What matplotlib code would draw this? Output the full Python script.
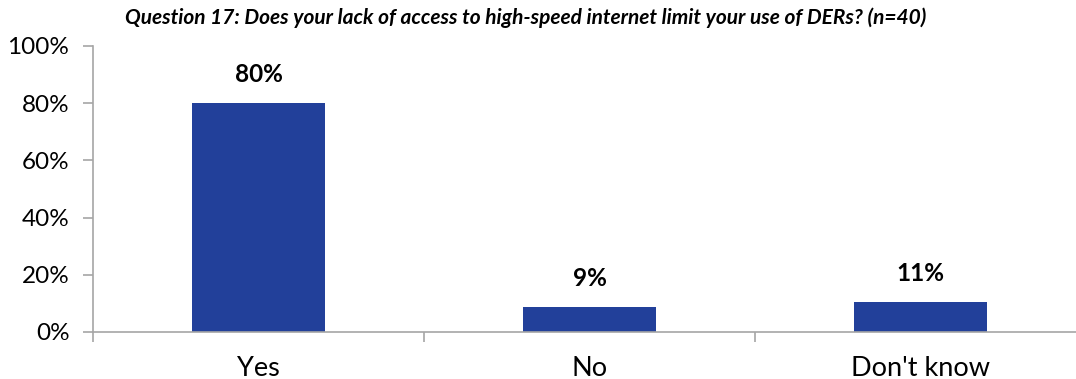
import numpy as np
import matplotlib.pyplot as plt
from matplotlib.ticker import FixedLocator

categories = ["Yes", "No", "Don't know"]
values = [80, 8.7, 10.6]
labels = ["80%", "9%", "11%"]
yticks = [0, 20, 40, 60, 80, 100]

bar_color = "#22409A"
axis_color = "#A6A6A6"

plt.rcParams['font.family'] = ['Lato', 'DejaVu Sans']

fig = plt.figure(figsize=(10.76, 3.79), dpi=100)
ax = fig.add_axes([93 / 1076, 1 - 332 / 379, 1 - 93 / 1076, (332 - 46) / 379])

x = np.arange(len(categories))
ax.bar(x, values, width=0.4, color=bar_color)

for xi, v, lab in zip(x, values, labels):
    ax.text(xi, v + 6, lab, ha='center', va='bottom', fontsize=17.5, fontweight='bold')

ax.set_xlim(-0.5, 2.47)
ax.set_ylim(0, 100)
ax.set_yticks(yticks)
ax.set_yticklabels([f"{t}%" for t in yticks], fontsize=17.5)

# category boundary ticks, labels at centers
ax.xaxis.set_major_locator(FixedLocator([-0.5, 0.5, 1.5]))
ax.xaxis.set_major_formatter(plt.NullFormatter())
ax.xaxis.set_minor_locator(FixedLocator(list(x)))
ax.set_xticklabels(categories, minor=True, fontsize=19.5)
ax.tick_params(axis='x', which='minor', length=0, pad=17)
ax.tick_params(axis='x', which='major', length=7, color=axis_color, width=1.2)
ax.tick_params(axis='y', length=7, color=axis_color, width=1.2, pad=10)

for s in ['top', 'right']:
    ax.spines[s].set_visible(False)
for s in ['left', 'bottom']:
    ax.spines[s].set_color(axis_color)
    ax.spines[s].set_linewidth(1.2)

fig.text(526 / 1076, 1 - 18 / 379,
         "Question 17: Does your lack of access to high-speed internet limit your use of DERs? (n=40)",
         ha='center', va='center', fontsize=15, fontweight='bold', fontstyle='italic')

fig.savefig("out.png", dpi=100)
